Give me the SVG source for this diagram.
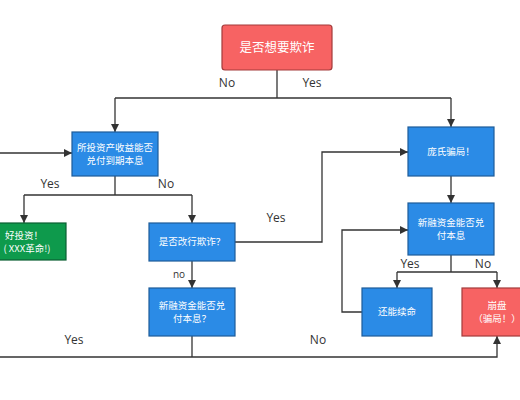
<svg xmlns="http://www.w3.org/2000/svg" width="520" height="400" viewBox="0 0 520 400">
<defs>
<marker id="ah" viewBox="0 0 10 10" refX="10" refY="5" markerWidth="8" markerHeight="8" markerUnits="userSpaceOnUse" orient="auto">
<path d="M0,0 L10,5 L0,10 z" fill="#333"/>
</marker>
</defs>
<style>
.blue{fill:#2b8be6;stroke:#1d5c99;stroke-width:1.2}
.red{fill:#f76363;stroke:#a33b3b;stroke-width:1.2}
.green{fill:#0e9a4c;stroke:#0a6033;stroke-width:1.2}
.t{font-family:"Noto Sans CJK SC","Noto Sans",sans-serif;fill:#fff;font-size:9.5px;text-anchor:middle}
.tb{font-size:12.5px}
.lbl{font-family:"Open Sans","Noto Sans",sans-serif;fill:#333;font-size:12px;text-anchor:middle}
.lbs{font-size:10px}
.c{fill:none;stroke:#333;stroke-width:1.3}
</style>
<rect width="520" height="400" fill="#fff"/>
<g id="connectors">
<path class="c" d="M277,70 V98"/>
<path class="c" d="M115,98 H451"/>
<path class="c" d="M115,98 V132" marker-end="url(#ah)"/>
<path class="c" d="M451,98 V127" marker-end="url(#ah)"/>
<path class="c" d="M0,153 H72" marker-end="url(#ah)"/>
<path class="c" d="M115,176 V195"/>
<path class="c" d="M24,195 H192"/>
<path class="c" d="M24,195 V223" marker-end="url(#ah)"/>
<path class="c" d="M192,195 V223" marker-end="url(#ah)"/>
<path class="c" d="M235,242 H322 V152 H408" marker-end="url(#ah)"/>
<path class="c" d="M451,176 V203" marker-end="url(#ah)"/>
<path class="c" d="M451,255 V272"/>
<path class="c" d="M397,272 H497"/>
<path class="c" d="M397,272 V288" marker-end="url(#ah)"/>
<path class="c" d="M497,272 V288" marker-end="url(#ah)"/>
<path class="c" d="M362,312 H342 V230 H408" marker-end="url(#ah)"/>
<path class="c" d="M192,261 V288" marker-end="url(#ah)"/>
<path class="c" d="M192,336 V357"/>
<path class="c" d="M0,357 H497 V336" marker-end="url(#ah)"/>
</g>
<g id="labels">
<text class="lbl" x="227" y="87">No</text>
<text class="lbl" x="312" y="87">Yes</text>
<text class="lbl" x="50" y="188">Yes</text>
<text class="lbl" x="166" y="188">No</text>
<text class="lbl" x="276" y="222">Yes</text>
<text class="lbl lbs" x="179" y="278">no</text>
<text class="lbl" x="410" y="268">Yes</text>
<text class="lbl" x="483" y="268">No</text>
<text class="lbl" x="74" y="344">Yes</text>
<text class="lbl" x="318" y="344">No</text>
</g>
<g id="n-start">
<rect class="red" x="222" y="25" width="110" height="45" rx="3"/>
<text class="t tb" x="277" y="52">是否想要欺诈</text>
</g>
<g id="n-asset">
<rect class="blue" x="72" y="132" width="86" height="44"/>
<text class="t" x="115" y="151">所投资产收益能否</text>
<text class="t" x="115" y="164">兑付到期本息</text>
</g>
<g id="n-good">
<rect class="green" x="-20" y="223" width="86" height="37"/>
<text class="t" x="24" y="239">好投资！</text>
<text class="t" x="27" y="252">( XXX革命!)</text>
</g>
<g id="n-switch">
<rect class="blue" x="149" y="223" width="86" height="38"/>
<text class="t" x="192" y="245">是否改行欺诈？</text>
</g>
<g id="n-newfund-left">
<rect class="blue" x="149" y="288" width="86" height="48"/>
<text class="t" x="192" y="309">新融资金能否兑</text>
<text class="t" x="192" y="322">付本息？</text>
</g>
<g id="n-ponzi">
<rect class="blue" x="408" y="127" width="86" height="49"/>
<text class="t" x="451" y="155">庞氏骗局！</text>
</g>
<g id="n-newfund-right">
<rect class="blue" x="408" y="203" width="86" height="52"/>
<text class="t" x="451" y="226">新融资金能否兑</text>
<text class="t" x="451" y="239">付本息</text>
</g>
<g id="n-continue">
<rect class="blue" x="362" y="288" width="70" height="48"/>
<text class="t" x="397" y="315">还能续命</text>
</g>
<g id="n-collapse">
<rect class="red" x="462" y="288" width="70" height="48"/>
<text class="t" x="497" y="309">崩盘</text>
<text class="t" x="497" y="322">（骗局！）</text>
</g>
</svg>
